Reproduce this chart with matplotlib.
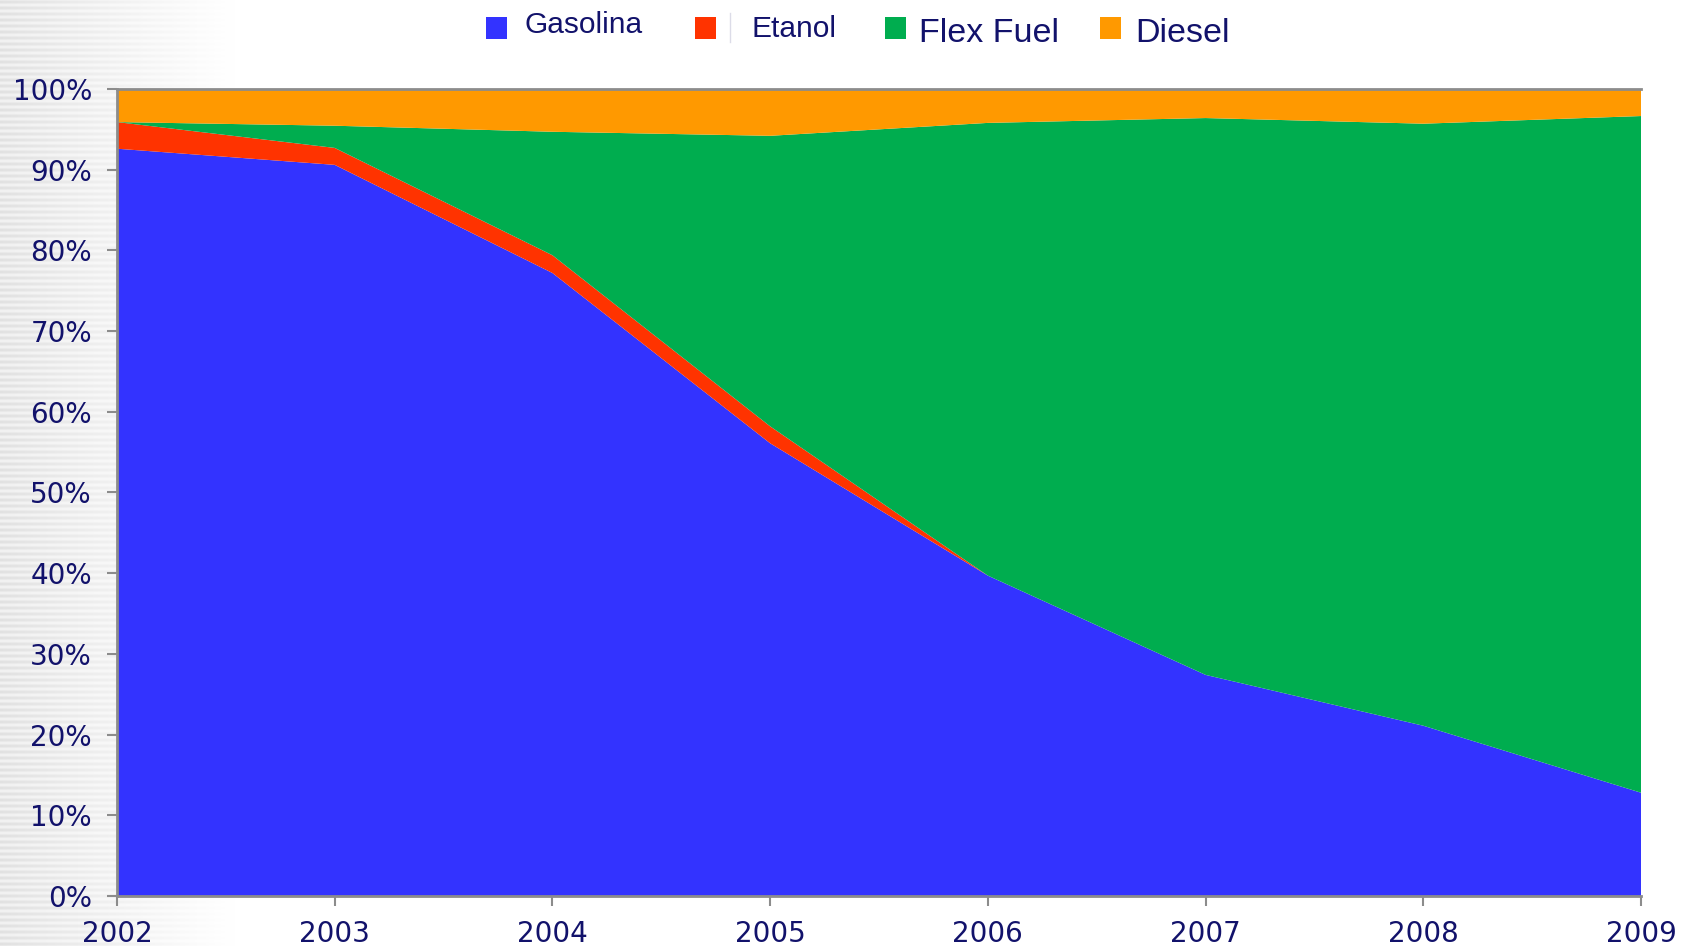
import numpy as np
import matplotlib
matplotlib.use("Agg")
import matplotlib.pyplot as plt
from matplotlib.patches import Rectangle

# frota por tipo de combustivel, participacao (%) por ano
anos = [2002, 2003, 2004, 2005, 2006, 2007, 2008, 2009]
gasolina = [92.6, 90.6, 77.2, 56.1, 39.7, 27.4, 21.1, 12.8]
etanol = [3.3, 2.1, 2.2, 2.1, 0.0, 0.0, 0.0, 0.0]
flex = [0.0, 2.75, 15.3, 36.0, 56.1, 69.0, 74.6, 83.85]
diesel = [4.1, 4.55, 5.3, 5.8, 4.2, 3.6, 4.3, 3.35]

nomes = ["Gasolina", "Etanol", "Flex Fuel", "Diesel"]
cores = ["#3333FF", "#FF3300", "#00AD4F", "#FF9900"]
yticks = [0, 10, 20, 30, 40, 50, 60, 70, 80, 90, 100]

W, H, DPI = 1686, 946, 100
navy = "#12126b"
cinza = "#8c8c8c"

fig = plt.figure(figsize=(W / DPI, H / DPI), dpi=DPI, facecolor="white")

# fundo listrado cinza que some para a direita
bw = 250
yy, xx = np.mgrid[0:H, 0:bw]
fade = np.clip(1.0 - xx / 235.0, 0, 1) ** 1.1
listra = 0.5 + 0.5 * np.sin(2 * np.pi * yy / 6.0)
val = 1.0 - fade * (0.05 + 0.07 * listra)
bg = np.dstack([val, val, val])
im = fig.figimage(bg, xo=0, yo=0, origin="upper")
im.set_zorder(-1)

ax = fig.add_axes([117 / W, 1 - 896 / H, (1641 - 117) / W, (896 - 89) / H])
ax.patch.set_alpha(0)

ax.stackplot(anos, gasolina, etanol, flex, diesel, colors=cores, linewidth=0)

ax.set_xlim(anos[0], anos[-1])
ax.set_ylim(0, 100)
ax.set_xticks(anos)
ax.set_xticklabels([str(a) for a in anos])
ax.set_yticks(yticks)
ax.set_yticklabels(["%d%%" % v for v in yticks])

for s in ["left", "bottom", "top"]:
	ax.spines[s].set_color(cinza)
	ax.spines[s].set_linewidth(2)
	ax.spines[s].set_zorder(5)
ax.spines["right"].set_visible(False)

ax.tick_params(axis="both", colors=cinza, length=7, width=1.5, direction="out")
ax.tick_params(axis="y", pad=11, labelsize=20, labelcolor=navy)
ax.tick_params(axis="x", pad=10, labelsize=20, labelcolor=navy)

# legenda no topo, montada a mao (tamanhos de fonte diferentes)
leg_font = ["Liberation Sans", "DejaVu Sans"]
marc_x = [486, 695, 885, 1100]
texto_x = [525, 752, 919, 1135]
base_y = [33, 37, 42, 42]
tam = [21.5, 21.5, 24.5, 24.5]

def fx(px):
	return px / W

def fy(py):
	return 1 - py / H

for i in range(len(nomes)):
	fig.add_artist(Rectangle((fx(marc_x[i]), fy(39)), 21 / W, 22 / H,
		transform=fig.transFigure, facecolor=cores[i], edgecolor="none"))
	fig.text(fx(texto_x[i]), fy(base_y[i]), nomes[i], family=leg_font,
		fontsize=tam[i], color=navy, va="baseline", ha="left")

# tracinho claro depois do marcador do Etanol
fig.add_artist(plt.Line2D([fx(730), fx(730)], [fy(13), fy(42)],
	transform=fig.transFigure, color="#dcdce8", lw=1))

fig.savefig("out.png", dpi=DPI, facecolor="white")
